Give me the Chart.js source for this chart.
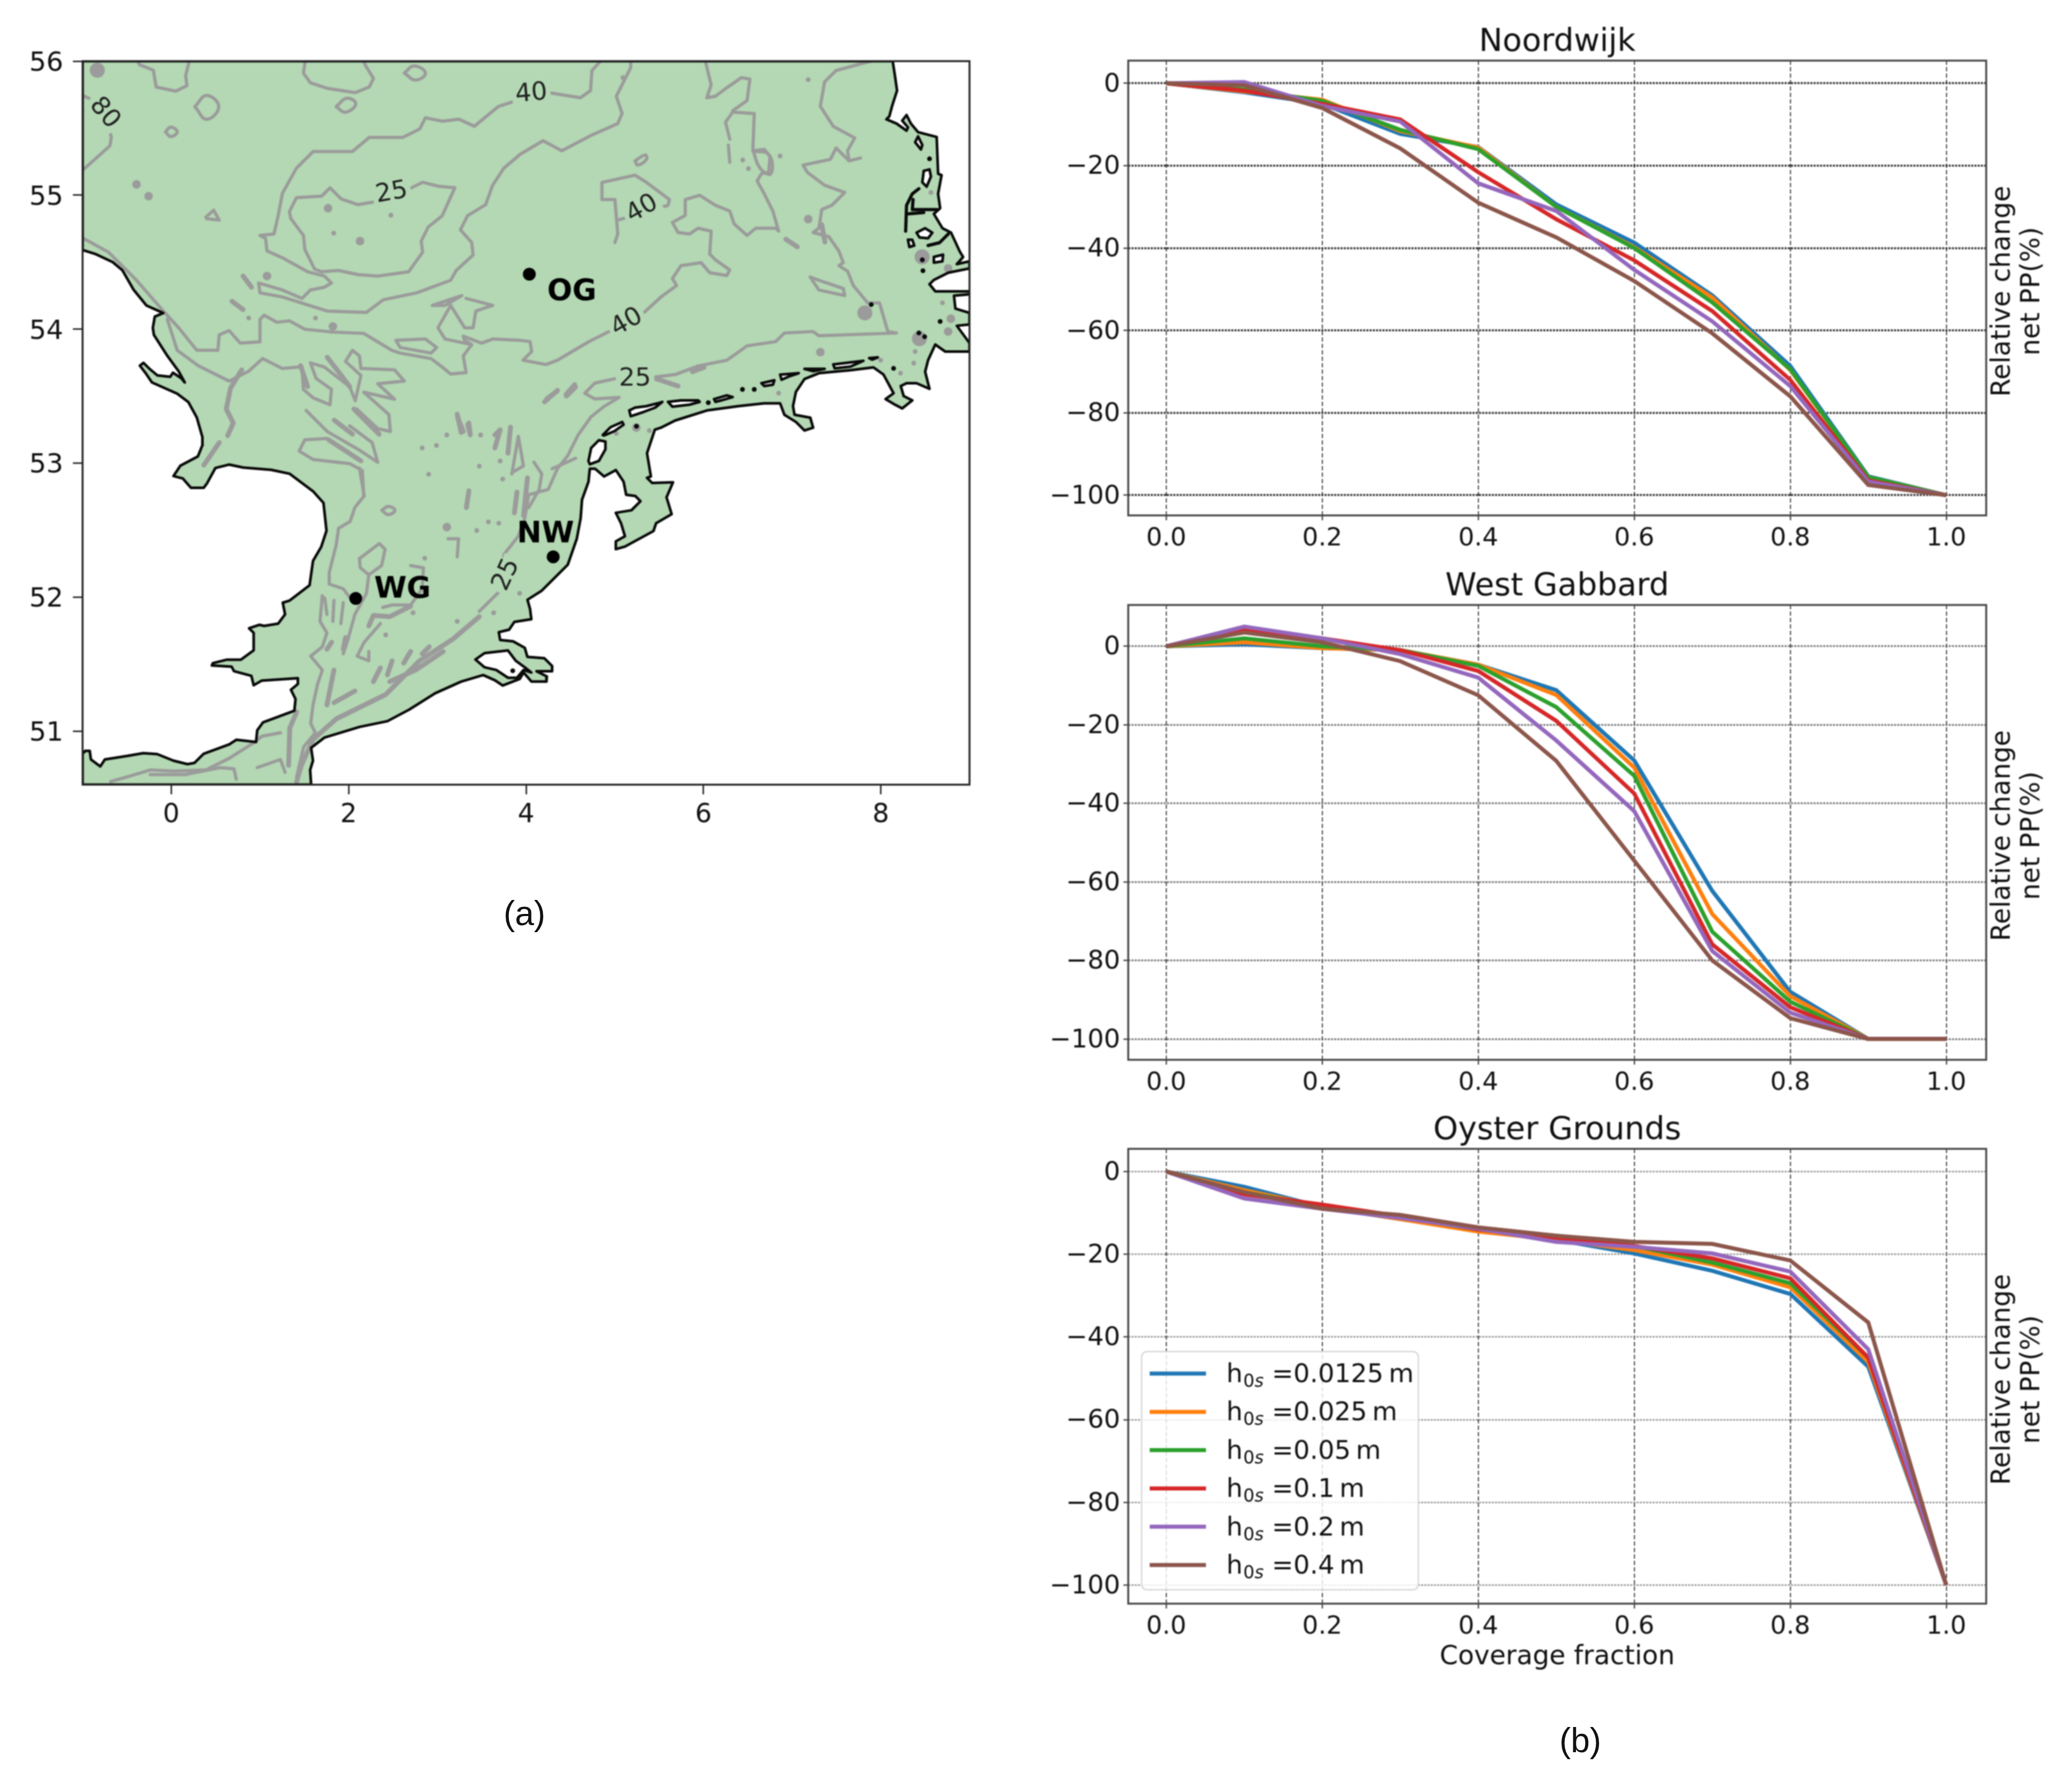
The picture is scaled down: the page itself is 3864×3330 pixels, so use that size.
<!DOCTYPE html>
<html>
<head>
<meta charset="utf-8">
<title>North Sea map and relative change in net primary production</title>
<script src="https://cdn.jsdelivr.net/npm/chart.js@4/dist/chart.umd.js"></script>
<style>
html,body{margin:0;padding:0;background:#fff;width:3864px;height:3330px;overflow:hidden}
canvas{position:absolute;filter:blur(1.3px)}
.cap{position:absolute;font-family:"Liberation Sans",sans-serif;font-size:64px;color:#111;line-height:70px;transform:translateX(-50%)}
</style>
</head>
<body>
<canvas id="map"></canvas>
<canvas id="p0"></canvas>
<canvas id="p1"></canvas>
<canvas id="p2"></canvas>
<div class="cap" style="left:978px;top:1668px">(a)</div>
<div class="cap" style="left:2947px;top:3210px">(b)</div>
<script>
// ---------- line panels ----------
const coverage = [0,0.1,0.2,0.3,0.4,0.5,0.6,0.7,0.8,0.9,1.0];
const xTicks = [0,0.2,0.4,0.6,0.8,1.0];
const yTicks = [-100,-80,-60,-40,-20,0];
const roughness = ['0.0125','0.025','0.05','0.1','0.2','0.4'];
const seriesColors = ['#1f77b4','#ff7f0e','#2ca02c','#d62728','#9467bd','#8c564b'];
const panelTitles = ['Noordwijk','West Gabbard','Oyster Grounds'];

const nw0125 = [0,-2.2,-5,-12.3,-15.5,-29.4,-38.7,-51.5,-68.6,-95.4,-100];
const nw025  = [0,-2,-4,-11.6,-15.6,-30,-39.8,-52,-69.6,-95.6,-100];
const nw05   = [0,-1.5,-4.3,-11.3,-16,-30,-40,-53.2,-69.4,-95.6,-100];
const nw1    = [0,-1.8,-5,-8.8,-21.6,-33,-43,-55.3,-72,-96.4,-100];
const nw2    = [0,0.3,-5.5,-9.3,-24.3,-31,-45.3,-57.8,-73.5,-96.7,-100];
const nw4    = [0,-0.5,-6,-15.8,-29,-37.4,-48,-60.7,-76,-97.5,-100];

const wg0125 = [0,0.5,-0.5,-1,-4.7,-11.2,-29.1,-62.3,-88,-100,-100];
const wg025  = [0,1,-0.5,-1,-4.7,-12.4,-30.9,-68.2,-89.1,-100,-100];
const wg05   = [0,2,0,-1,-5,-15.5,-33,-72.7,-90.5,-100,-100];
const wg1    = [0,4,2,-1,-6.3,-19,-37.5,-75.9,-91.9,-100,-100];
const wg2    = [0,5,2,-2,-8,-24,-42,-77.6,-93.3,-100,-100];
const wg4    = [0,3.5,1,-3.8,-12.5,-29.2,-54.6,-80,-94.7,-100,-100];

const og0125 = [0,-3.7,-8.6,-11.5,-14.2,-16.5,-19.8,-24,-29.6,-47.2,-100];
const og025  = [0,-4.5,-8.5,-11.5,-14.5,-16.5,-19,-22.5,-28,-46,-100];
const og05   = [0,-5,-8.5,-11,-14,-15.5,-18,-22,-27,-45,-100];
const og1    = [0,-5.5,-8,-10.8,-14,-16,-18,-21,-25.8,-45,-100];
const og2    = [0,-6.5,-9,-11.2,-13.8,-17,-18.2,-19.8,-24.2,-43,-100];
const og4    = [0,-5,-9,-10.5,-13.5,-15.5,-17,-17.5,-21.5,-36.5,-100];

const panelSeries = [
  [nw0125,nw025,nw05,nw1,nw2,nw4],
  [wg0125,wg025,wg05,wg1,wg2,wg4],
  [og0125,og025,og05,og1,og2,og4]
];
const panelRanges = [[-104.9,5.5],[-105.3,10.5],[-104.5,5.5]];
const xRange = [-0.0488,1.0512];

// ---------- map (longitude, latitude) ----------
const lonTicks = [0,2,4,6,8];
const latTicks = [51,52,53,54,55,56];

const seaBoundary = [[-1,56],[8.134,56],[8.16,55.888],[8.183,55.78],[8.131,55.673],[8.096,55.588],[8.063,55.566],[8.177,55.534],[8.29,55.481],[8.306,55.506],[8.241,55.556],[8.29,55.598],[8.339,55.534],[8.42,55.47],[8.63,55.434],[8.646,55.16],[8.685,55.149],[8.646,55.01],[8.669,54.903],[8.598,54.86],[8.695,54.753],[8.792,54.72],[8.889,54.581],[8.928,54.538],[8.857,54.485],[9,54.506],[9,54.453],[8.76,54.421],[8.598,54.367],[8.549,54.335],[8.614,54.282],[9,54.282],[9,54.26],[8.825,54.25],[8.841,54.153],[9,54.121],[9,54.035],[8.857,54.025],[9,53.896],[9,53.832],[8.727,53.832],[8.614,53.885],[8.533,53.768],[8.5,53.682],[8.549,53.554],[8.403,53.596],[8.29,53.596],[8.225,53.575],[8.258,53.5],[8.355,53.468],[8.241,53.408],[8.16,53.436],[8.054,53.478],[8.144,53.521],[8.031,53.66],[7.917,53.714],[7.658,53.693],[7.302,53.671],[7.14,53.628],[7.043,53.532],[7.01,53.425],[7.027,53.361],[7.205,53.339],[7.237,53.264],[7.14,53.243],[7.043,53.307],[6.913,53.361],[6.865,53.446],[6.686,53.446],[6.395,53.425],[6.039,53.393],[5.682,53.318],[5.52,53.264],[5.452,53.249],[5.364,53.074],[5.408,52.9],[5.364,52.89],[5.422,52.852],[5.657,52.857],[5.584,52.745],[5.642,52.619],[5.466,52.551],[5.437,52.493],[5.115,52.377],[5.012,52.358],[5.012,52.416],[5.115,52.454],[5.071,52.551],[5.012,52.629],[5.188,52.648],[5.29,52.716],[5.232,52.755],[5.129,52.764],[5.1,52.861],[5.012,52.948],[4.88,52.9],[4.778,52.958],[4.719,52.958],[4.704,52.861],[4.631,52.726],[4.616,52.59],[4.572,52.435],[4.47,52.241],[4.177,52.048],[4.016,51.98],[4.045,51.912],[4.06,51.835],[3.869,51.815],[3.81,51.757],[3.693,51.738],[3.708,51.68],[3.854,51.67],[3.986,51.621],[4.015,51.554],[4.206,51.544],[4.294,51.486],[4.294,51.447],[4.118,51.447],[4.235,51.408],[4.23,51.37],[4.06,51.37],[3.972,51.437],[3.928,51.389],[3.737,51.34],[3.649,51.379],[3.517,51.418],[3.268,51.369],[2.975,51.282],[2.682,51.16],[2.437,51.074],[2.122,51.031],[1.729,50.952],[1.577,50.875],[1.598,50.779],[1.566,50.71],[1.577,50.6],[-1,50.6],[-1,50.84],[-0.985,50.84],[-0.972,50.852],[-0.919,50.852],[-0.906,50.788],[-0.801,50.736],[-0.749,50.788],[-0.5,50.814],[-0.316,50.835],[-0.159,50.828],[0.025,50.779],[0.182,50.753],[0.261,50.762],[0.366,50.831],[0.654,50.901],[0.733,50.935],[0.956,50.918],[0.969,51.005],[1.034,51.065],[1.388,51.152],[1.401,51.239],[1.349,51.308],[1.427,51.351],[1.427,51.395],[1.021,51.377],[0.929,51.342],[0.903,51.412],[0.707,51.447],[0.68,51.481],[0.457,51.49],[0.47,51.507],[0.628,51.533],[0.785,51.533],[0.929,51.603],[0.929,51.733],[0.877,51.767],[0.995,51.793],[1.047,51.785],[1.205,51.802],[1.283,51.871],[1.257,51.958],[1.336,51.975],[1.559,52.088],[1.598,52.27],[1.69,52.374],[1.75,52.495],[1.716,52.703],[1.598,52.79],[1.336,52.92],[1.126,52.95],[0.811,52.967],[0.654,52.989],[0.497,52.963],[0.405,52.851],[0.366,52.816],[0.221,52.816],[0.13,52.885],[0.025,52.903],[0.103,52.981],[0.3,53.05],[0.353,53.137],[0.351,53.194],[0.288,53.34],[0.193,53.455],[0.067,53.518],[-0.076,53.56],[-0.218,53.602],[-0.281,53.664],[-0.354,53.727],[-0.313,53.748],[-0.249,53.706],[-0.155,53.654],[-0.012,53.644],[0.019,53.675],[0.114,53.633],[0.152,53.602],[0.083,53.685],[-0.044,53.8],[-0.196,53.957],[-0.208,54.009],[-0.186,54.093],[-0.091,54.12],[-0.281,54.177],[-0.423,54.292],[-0.55,54.438],[-0.66,54.5],[-0.85,54.559],[-1,54.59],[-1,56]];

const landIslands = [
 [[3.429,51.534],[3.532,51.582],[3.796,51.602],[3.884,51.525],[3.986,51.476],[4.06,51.437],[3.972,51.456],[3.898,51.398],[3.796,51.398],[3.664,51.456],[3.532,51.476],[3.429,51.534]],
 [[4.704,53.016],[4.734,53.113],[4.821,53.171],[4.895,53.161],[4.895,53.103],[4.821,53.016],[4.719,52.991],[4.704,53.016]],
 [[4.865,53.21],[4.953,53.268],[5.085,53.307],[5.1,53.287],[4.997,53.239],[4.88,53.206],[4.865,53.21]],
 [[5.164,53.393],[5.229,53.414],[5.358,53.425],[5.488,53.447],[5.537,53.457],[5.456,53.414],[5.326,53.382],[5.18,53.35],[5.164,53.393]],
 [[5.601,53.457],[5.747,53.468],[5.941,53.468],[5.958,53.457],[5.844,53.436],[5.65,53.421],[5.601,53.457]],
 [[6.12,53.478],[6.265,53.506],[6.33,53.493],[6.2,53.468],[6.136,53.457],[6.12,53.478]],
 [[6.654,53.596],[6.8,53.618],[6.784,53.585],[6.686,53.575],[6.654,53.596]],
 [[6.865,53.66],[7.075,53.671],[6.978,53.65],[6.881,53.622],[6.865,53.66]],
 [[7.14,53.703],[7.367,53.703],[7.237,53.686],[7.14,53.703]],
 [[7.464,53.736],[7.804,53.763],[7.658,53.72],[7.48,53.707],[7.464,53.736]],
 [[7.869,53.783],[7.966,53.789],[7.901,53.772],[7.869,53.783]],
 [[8.42,55.438],[8.468,55.374],[8.452,55.341],[8.387,55.395],[8.42,55.438]],
 [[8.484,55.181],[8.549,55.192],[8.565,55.138],[8.517,55.063],[8.468,55.095],[8.484,55.181]],
 [[8.403,54.72],[8.5,54.753],[8.581,54.72],[8.533,54.678],[8.436,54.684],[8.403,54.72]],
 [[8.306,54.667],[8.355,54.667],[8.377,54.624],[8.322,54.613],[8.306,54.667]],
 [[8.598,54.539],[8.702,54.556],[8.695,54.506],[8.598,54.496],[8.598,54.539]]
];
const coastLines = [
 [[8.429,55.048],[8.355,55.01],[8.29,54.924],[8.28,54.731]],
 [[8.364,54.967],[8.355,54.892],[8.63,54.892]],
 [[8.306,54.86],[8.484,54.87]],
 [[8.533,54.624],[8.662,54.645],[8.76,54.71]]
];
const coastDots = [[7.892,54.183],[5.245,53.275],[6.44,53.55],[6.573,53.55],[8.144,53.707],[8.669,54.057],[8.429,53.971],[8.494,53.943],[8.549,55.271],[8.468,54.517],[8.475,54.436],[6.055,53.451],[3.85,51.45]];

const contours = [
 [[-0.376,56],[-0.36,55.974],[-0.202,55.932],[-0.17,55.807],[0.051,55.776],[0.177,55.817],[0.162,55.891],[0.193,55.974],[0.2,56]],
 [[1.51,56],[1.49,55.911],[1.569,55.838],[1.758,55.797],[2.074,55.765],[2.232,55.807],[2.28,55.87],[2.185,55.974],[2.17,56]],
 [[-0.992,55.19],[-0.834,55.284],[-0.692,55.368],[-0.676,55.431],[-0.708,55.504]],
 [[-1,55.744],[-0.929,55.723]],
 [[3.877,55.702],[3.687,55.661],[3.418,55.514],[3.245,55.567],[3.055,55.552],[2.865,55.577],[2.802,55.494],[2.612,55.431],[2.233,55.431],[2.043,55.326],[1.6,55.326],[1.411,55.201],[1.253,55.013],[1.205,54.846],[1.158,54.71],[1,54.699],[1.063,54.678],[1.079,54.584],[1.253,54.532],[1.537,54.428],[1.727,54.396],[1.806,54.344],[1.727,54.313],[1.569,54.292],[1.474,54.229],[1.253,54.292],[0.984,54.344],[1,54.271],[1.253,54.24],[1.506,54.187],[1.759,54.135],[2.201,54.125],[2.391,54.219],[2.77,54.271],[3.15,54.365],[3.213,54.438],[3.403,54.553],[3.387,54.647],[3.26,54.741],[3.34,54.846],[3.545,54.929],[3.624,55.075],[3.75,55.201],[3.934,55.305],[4.192,55.406],[4.403,55.331],[4.743,55.449],[5.034,55.534],[5.083,55.609],[5.018,55.738],[5.18,55.952],[5.18,56]],
 [[3.877,55.702],[4.208,55.77],[4.613,55.727],[4.727,55.78],[4.743,55.93],[4.84,56]],
 [[1.616,54.448],[1.506,54.595],[1.49,54.699],[1.348,54.825],[1.332,54.877],[1.411,54.981],[1.695,54.992],[1.79,55.055],[1.917,54.971],[2.106,54.929],[2.296,54.95],[2.644,55.034],[2.834,55.096],[3.023,55.065],[3.197,55.055],[3.055,54.846],[2.897,54.762],[2.818,54.657],[2.834,54.574],[2.676,54.428],[2.328,54.396],[2.106,54.407],[1.885,54.438],[1.695,54.428],[1.616,54.448]],
 [[-0.075,54.124],[0.083,54.01],[0.288,53.842],[0.525,53.842],[0.541,53.957],[0.652,53.989],[0.778,53.895],[1,53.905],[1,54.072],[1.047,54.104],[1.19,54.051],[1.332,54.062],[1.506,53.999],[1.822,53.978],[2.17,53.968],[2.486,53.842],[2.581,53.821],[2.929,53.78],[3.055,53.717],[3.15,53.665],[3.324,53.675],[3.292,53.8],[3.387,53.884],[3.308,53.916],[3.292,53.947],[3.498,53.895],[3.624,53.926],[3.934,53.916],[4.046,53.907],[4.063,53.832],[3.965,53.768],[4.225,53.736],[4.354,53.768],[4.71,53.907],[4.969,53.993],[5.326,54.121],[5.52,54.239],[5.698,54.325],[5.65,54.378],[5.747,54.474],[5.974,54.496],[6.071,54.421],[6.265,54.4],[6.297,54.442],[6.135,54.517],[6.071,54.56],[6.087,54.731],[5.941,54.753],[5.844,54.71],[5.714,54.721],[5.65,54.796],[5.795,54.849],[5.795,54.967],[5.957,54.999],[6.135,54.924],[6.297,54.881],[6.346,54.785],[6.492,54.699],[6.589,54.753],[6.816,54.753],[6.848,54.731],[6.783,54.881],[6.686,55.01],[6.605,55.106],[6.654,55.16],[6.735,55.17],[6.751,55.288],[6.686,55.342],[6.557,55.331],[6.573,55.609],[6.33,55.62],[6.249,55.545],[6.297,55.417]],
 [[6.33,55.63],[6.492,55.706],[6.524,55.866],[6.427,55.877],[6.265,55.802],[6.135,55.738],[6.038,55.727],[6.087,55.823],[6.022,56]],
 [[6.281,55.374],[6.297,55.245]],
 [[5.002,54.646],[5.034,54.71],[5.002,54.967],[4.856,54.967],[4.856,55.095],[5.229,55.149],[5.358,55.095],[5.617,54.967],[5.601,54.924],[5.423,54.892],[5.05,54.817]],
 [[7.885,56],[7.496,55.93],[7.366,55.845],[7.318,55.663],[7.464,55.513],[7.706,55.427],[7.625,55.331],[7.642,55.256],[7.771,55.277]],
 [[7.642,55.256],[7.496,55.352],[7.431,55.267],[7.123,55.224],[7.172,55.17],[7.366,55.074],[7.593,55.02],[7.447,54.924],[7.334,54.892],[7.302,54.753],[7.237,54.721],[7.415,54.689],[7.528,54.582],[7.577,54.496],[7.528,54.474],[7.625,54.432],[7.69,54.325],[7.852,54.196]],
 [[7.852,54.196],[7.985,54.196],[8.079,53.982],[8.176,53.971],[7.302,53.95],[7.237,53.982],[6.913,53.971],[6.816,53.907],[6.492,53.875],[6.265,53.768],[5.941,53.725],[5.682,53.661],[5.423,53.639],[5.067,53.639],[4.775,53.597],[4.662,53.522],[4.775,53.479],[5.05,53.49],[4.88,53.423],[4.734,53.346],[4.587,53.21],[4.47,53.055],[4.353,52.958],[4.25,52.803],[4.03,52.764],[3.986,52.59],[3.913,52.455],[3.752,52.319],[3.708,52.048],[3.473,51.893]],
 [[-0.044,54.072],[0.067,53.842],[0.304,53.727],[0.652,53.612],[0.873,53.686],[1.031,53.78],[1.253,53.706],[1.442,53.717]],
 [[-0.992,54.678],[-0.708,54.574],[-0.392,54.365],[-0.075,54.124]],
 [[1.474,53.717],[1.49,53.55],[1.6,53.487],[1.79,53.435],[1.806,53.55],[1.632,53.633],[1.569,53.748],[1.727,53.717],[2.011,53.571],[2.075,53.466],[2.138,53.654],[1.964,53.759],[2.043,53.842],[2.122,53.8],[2.138,53.706],[2.517,53.696],[2.628,53.612],[2.328,53.592],[2.517,53.477],[2.17,53.529],[2.454,53.362],[2.47,53.236],[2.328,53.257],[2.09,53.404]],
 [[1.521,53.393],[1.758,53.236],[2.138,53.09],[2.328,53.006],[2.265,53.153],[2.011,53.278]],
 [[1.758,53.184],[1.506,53.174],[1.442,53.09],[1.6,53.027],[2.011,52.996],[2.154,52.944],[2.17,52.756]],
 [[2.122,52.963],[2.175,52.755],[2.07,52.669],[2.017,52.565],[1.886,52.513],[1.86,52.391],[1.781,52.183],[1.781,52.097],[1.939,52.062],[2.017,51.993]],
 [[2.122,52.287],[2.345,52.4],[2.411,52.357],[2.371,52.235],[2.227,52.166],[2.2,52.027],[2.07,51.871],[1.991,51.681],[1.939,51.577]],
 [[2.122,52.287],[2.13,52.22],[2.227,52.166]],
 [[1.703,52.01],[1.677,51.819],[1.755,51.733],[1.703,51.629],[1.572,51.559],[1.703,51.455],[1.65,51.351],[1.598,51.195],[1.572,51.057],[1.624,50.987],[1.493,50.883],[1.414,50.658]],
 [[1.834,51.975],[1.822,51.819]],[[1.939,51.958],[1.912,51.802]],[[1.73,51.993],[1.755,51.871]],
 [[2.385,51.923],[2.49,51.941],[2.699,51.941],[2.83,52.062],[2.843,52.218],[2.699,52.235]],
 [[2.358,51.802],[2.175,51.663],[2.096,51.559],[2.227,51.525],[2.227,51.594]],
 [[1.231,50.987],[1.021,50.961],[0.943,50.918],[0.654,50.797],[0.392,50.71],[0.025,50.701],[-0.237,50.71],[-0.5,50.658],[-0.683,50.623]],
 [[-0.237,50.675],[0.156,50.675],[0.549,50.727],[0.707,50.718],[0.733,50.64]],
 [[0.969,50.727],[1.231,50.788],[1.283,50.692]],
 [[3.84,52.919],[3.913,53.2],[3.971,52.978],[3.84,52.929]],
 [[4.089,53.007],[4.177,52.919],[4.148,52.803],[4.03,52.668]],
 [[4.558,53.036],[4.294,52.958]],
 [[3.122,52.435],[3.239,52.435],[3.224,52.3]],
 [[7.204,54.389],[7.301,54.292],[7.593,54.25],[7.577,54.303],[7.334,54.357],[7.204,54.389]],
 [[2.533,53.916],[2.865,53.926],[2.992,53.863],[2.929,53.821],[2.581,53.863],[2.533,53.916]],
 [[2.944,54.177],[3.276,54.25],[3.087,54.177],[2.944,54.177]],
 [[3.324,54.229],[3.624,54.177],[3.434,54.135],[3.403,54.01],[3.308,54.01],[3.15,54.177],[3.007,54.01],[3.087,53.926],[3.387,53.884]],
 [[0.389,54.835],[0.478,54.887],[0.541,54.814],[0.399,54.824]]
];
const thickContours = [
 [[3.473,51.854],[3.18,51.689],[2.799,51.525],[2.418,51.273],[1.86,51.091],[1.598,50.937],[1.467,50.744],[1.414,50.623]],
 [[3.066,51.594],[2.752,51.455],[2.463,51.369]],
 [[2.07,51.299],[1.834,51.212]],
 [[2.699,51.594],[2.62,51.507]],[[2.49,51.525],[2.437,51.42]],[[2.358,51.472],[2.279,51.369]],[[2.909,51.629],[2.83,51.577]],
 [[1.808,51.663],[1.755,51.611]],[[1.965,51.698],[1.939,51.611]],
 [[2.227,51.785],[2.279,51.863],[2.463,51.854],[2.699,51.932]],
 [[1.414,51.143],[1.336,51.022],[1.323,50.744]],
 [[1.834,51.455],[1.755,51.195]],
 [[0.541,53.153],[0.367,52.985]],
 [[0.794,53.696],[0.668,53.56],[0.62,53.403],[0.699,53.299],[0.636,53.205]],
 [[1.458,53.727],[1.537,53.571]],
 [[1.758,53.79],[1.917,53.654],[2.011,53.571]],
 [[1.838,53.32],[2.043,53.216]],[[2.059,53.404],[2.344,53.215]],[[1.774,53.174],[2.138,53.017]],
 [[3.224,53.365],[3.268,53.229]],[[3.342,53.287],[3.371,53.21]],[[3.649,53.21],[3.708,53.249],[3.649,53.113]],[[3.825,53.268],[3.796,53.074]],
 [[4.016,52.89],[3.972,52.609]],[[3.898,52.784],[3.869,52.629]],[[3.356,52.794],[3.327,52.668]],
 [[4.235,53.481],[4.353,53.539]],[[4.455,53.5],[4.558,53.568]],
 [[4.208,53.457],[4.354,53.543]],[[4.451,53.511],[4.548,53.586]],
 [[5.423,53.639],[5.714,53.575]],[[5.876,53.682],[6.006,53.714]],
 [[0.81,54.396],[0.905,54.313]],[[0.684,54.208],[0.81,54.145]],
 [[3.229,53.341],[3.292,53.236]],[[3.355,53.299],[3.371,53.215]],
 [[6.929,54.671],[7.059,54.614]],
 [[7.334,54.78],[7.37,54.65]]
];
const ringContours = [
 [[2.627,55.911],[2.738,55.964],[2.865,55.911],[2.754,55.859],[2.627,55.911]],
 [[0.266,55.66],[0.399,55.744],[0.535,55.66],[0.399,55.566],[0.266,55.66]],
 [[1.859,55.66],[1.98,55.723],[2.08,55.681],[1.964,55.619],[1.859,55.66]],
 [[-0.066,55.472],[-0.006,55.508],[0.067,55.472],[-0.006,55.437],[-0.066,55.472]],
 [[5.229,55.256],[5.342,55.299],[5.358,55.267],[5.261,55.224],[5.229,55.256]],
 [[2.374,52.648],[2.448,52.677],[2.521,52.648],[2.448,52.615],[2.374,52.648]],
 [[6.56,55.33],[6.74,55.3],[6.76,55.16],[6.64,55.2],[6.56,55.33]]
];
const shoalDotsLarge = [[-0.834,55.932],[7.82,54.121],[8.435,53.928],[8.466,54.539]];
const shoalDotsMedium = [[-0.392,55.08],[-0.256,54.992],[1.768,54.902],[2.128,54.657],[3.107,52.522],[7.318,53.828],[7.182,54.821],[8.759,53.982],[8.79,54.078],[8.759,54.453],[5.244,53.265],[1.822,54.02],[1.079,54.396]];
const shoalDotsSmall = [[1.831,54.716],[2.476,54.85],[2.858,52.29],[3.473,52.977],[3.737,52.881],[3.708,53.016],[3.576,52.561],[3.693,52.551],[3.444,52.497],[2.902,52.916],[2.829,53.113],[2.99,53.132],[3.107,53.21],[3.488,53.21],[3.928,52.028],[3.635,51.883],[3.224,51.819],[2.726,51.883],[2.418,51.718],[6.443,55.262],[6.508,55.198],[6.864,55.292],[7.182,55.862],[5.093,55.877],[7.998,53.768],[8.222,53.671],[8.371,53.746],[8.387,53.832],[6.848,53.522],[8.695,54.196],[8.565,55.02],[5.39,53.243],[5.018,53.222],[0.873,54.083],[1.626,54.083]];

const stationLon = [4.037,4.306,2.08];
const stationLat = [54.41,52.3,51.99];
const stationNames = ['OG','NW','WG'];
const stationLabelLon = [4.516,4.22,2.607];
const stationLabelLat = [54.275,52.465,52.055];

const contourText = ['40','25','80','40','40','25','25'];
const contourLon = [4.06,2.486,-0.755,5.31,5.138,5.229,3.781];
const contourLat = [55.755,55.015,55.611,54.895,54.049,53.627,52.166];
const contourAngle = [-5,-10,50,-30,-30,0,-65];

// ---------- helpers ----------
const FONT = '"DejaVu Sans"';
const TEXT = '#111';
const asXY = pts => pts.map(p => ({x:p[0],y:p[1]}));
function fixCanvas(id,l,t,w,h){
  const c=document.getElementById(id);
  c.width=w;c.height=h;
  c.style.left=l+'px';c.style.top=t+'px';c.style.width=w+'px';c.style.height=h+'px';
  return c;
}
const frame = color => ({
  id:'frame',
  afterDatasetsDraw(ch){
    const a=ch.chartArea,c=ch.ctx;
    c.save();c.strokeStyle=color;c.lineWidth=3.5;
    c.strokeRect(a.left,a.top,a.right-a.left,a.bottom-a.top);
    c.restore();
  }
});
const sideLabel = {
  id:'sideLabel',
  afterDraw(ch){
    const a=ch.chartArea,c=ch.ctx,cy=(a.top+a.bottom)/2+6;
    c.save();c.fillStyle=TEXT;c.font='49px '+FONT;c.textAlign='center';c.textBaseline='middle';
    [['Relative change',31],['net PP(%)',86]].forEach(([t,dx])=>{
      c.save();c.translate(a.right+dx,cy);c.rotate(-Math.PI/2);c.fillText(t,0,0);c.restore();
    });
    c.restore();
  }
};
const legendBox = {
  id:'legendBox',
  afterDraw(ch){
    const a=ch.chartArea,c=ch.ctx,l=a.left+25,t=a.top+378,w=516,h=444;
    c.save();
    c.beginPath();c.roundRect(l,t,w,h,10);
    c.fillStyle='rgba(255,255,255,0.82)';c.fill();
    c.strokeStyle='#d5d5d5';c.lineWidth=2.5;c.stroke();
    roughness.forEach((v,i)=>{
      const y=a.top+419+i*71.4;
      c.strokeStyle=seriesColors[i];c.lineWidth=7.5;
      c.beginPath();c.moveTo(a.left+40,y);c.lineTo(a.left+145,y);c.stroke();
      c.fillStyle=TEXT;c.textBaseline='alphabetic';c.textAlign='left';
      let x=a.left+183;const base=y+16;
      c.font='48px '+FONT;c.fillText('h',x,base);x+=c.measureText('h').width+1;
      c.font='33px '+FONT;c.fillText('0',x,base+9);x+=c.measureText('0').width;
      c.font='italic 33px '+FONT;c.fillText('s',x,base+9);x+=c.measureText('s').width;
      c.font='48px '+FONT;c.fillText(' ='+v+'\u2009m',x,base);
    });
    c.restore();
  }
};

// ---------- line panels ----------
const panelTop=[114,1129,2143], plotH=847, headH=80;
panelTitles.forEach((title,i)=>{
  const last=i===2, axisH=last?130:70;
  const cv=fixCanvas('p'+i,1950,panelTop[i]-headH,1914,headH+plotH+axisH);
  const hStyle=[{w:3.8,c:'rgba(40,40,40,0.9)',d:[4,2]},{w:3.2,c:'rgba(100,100,100,0.85)',d:[4,2]},{w:2.8,c:'rgba(130,130,130,0.85)',d:[4,2]}][i];
  new Chart(cv,{
    type:'scatter',
    data:{datasets:panelSeries[i].map((vals,k)=>({
      label:'h0s ='+roughness[k]+' m',
      data:vals.map((v,j)=>({x:coverage[j],y:v})),
      showLine:true,borderColor:seriesColors[k],backgroundColor:seriesColors[k],
      borderWidth:7.5,pointRadius:0,tension:0,order:-k
    }))},
    options:{
      responsive:false,animation:false,devicePixelRatio:1,
      layout:{padding:{right:160,left:0,top:0,bottom:0}},
      plugins:{
        legend:{display:false},tooltip:{enabled:false},
        title:{display:true,text:title,fullSize:false,color:TEXT,font:{family:FONT,size:59,weight:'normal'},padding:{top:10,bottom:-1.8}}
      },
      scales:{
        x:{type:'linear',min:xRange[0],max:xRange[1],
          afterBuildTicks:s=>{s.ticks=xTicks.map(v=>({value:v}))},
          afterFit:s=>{s.height=axisH},
          border:{display:false,dash:[8,4]},
          grid:{color:'rgba(40,40,40,0.9)',lineWidth:2,tickLength:9,tickColor:'#444',tickWidth:2.5},
          ticks:{autoSkip:false,maxRotation:0,padding:7,color:TEXT,font:{family:FONT,size:47},callback:v=>Number(v).toFixed(1)},
          title:{display:last,text:'Coverage fraction',color:TEXT,font:{family:FONT,size:49},padding:{top:0,bottom:0}}
        },
        y:{type:'linear',min:panelRanges[i][0],max:panelRanges[i][1],
          afterBuildTicks:s=>{s.ticks=yTicks.map(v=>({value:v}))},
          afterFit:s=>{s.width=154},
          border:{display:false,dash:hStyle.d},
          grid:{color:hStyle.c,lineWidth:hStyle.w,tickLength:9,tickColor:'#444',tickWidth:2.5},
          ticks:{padding:6,labelOffset:3,color:TEXT,font:{family:FONT,size:48},callback:v=>String(v).replace('-','\u2212')}
        }
      }
    },
    plugins:last?[frame('#444'),sideLabel,legendBox]:[frame('#444'),sideLabel]
  });
});

// ---------- map ----------
const GREEN='#b3d8b3', GRAY='#9b9b9b';
const mapSets=[];
const addLine=(pts,o)=>mapSets.push(Object.assign({data:asXY(pts),showLine:true,pointRadius:0,tension:0,fill:false,borderColor:GRAY,borderWidth:6,borderJoinStyle:'round',borderCapStyle:'round'},o));
const addDots=(pts,r,col)=>mapSets.push({data:asXY(pts),showLine:false,pointRadius:r,pointBackgroundColor:col,pointBorderWidth:0});
addLine(seaBoundary,{fill:'shape',backgroundColor:GREEN,borderColor:'rgba(0,0,0,0)',borderWidth:0});
contours.forEach(c=>addLine(c,{}));
thickContours.forEach(c=>addLine(c,{borderWidth:9}));
ringContours.forEach(c=>addLine(c,{tension:0.45}));
addDots(shoalDotsLarge,14,GRAY);addDots(shoalDotsMedium,8,GRAY);addDots(shoalDotsSmall,4.5,GRAY);
addLine(seaBoundary,{borderColor:'#0a0a0a',borderWidth:5});
landIslands.forEach(c=>addLine(c,{fill:'shape',backgroundColor:'#fff',borderColor:'#0a0a0a',borderWidth:5}));
coastLines.forEach(c=>addLine(c,{borderColor:'#0a0a0a',borderWidth:6}));
addDots(coastDots,4.5,'#0a0a0a');
addDots(stationLon.map((x,i)=>[x,stationLat[i]]),12,'#000');
mapSets.forEach((d,i)=>{d.order=-i});

const mapLabels={
  id:'mapLabels',
  afterDatasetsDraw(ch){
    const c=ch.ctx,X=ch.scales.x,Y=ch.scales.y;
    c.save();c.textAlign='center';c.textBaseline='middle';
    contourText.forEach((t,i)=>{
      c.save();c.translate(X.getPixelForValue(contourLon[i]),Y.getPixelForValue(contourLat[i]));
      c.rotate(contourAngle[i]*Math.PI/180);
      c.font='47px '+FONT;
      const w=c.measureText(t).width;
      c.fillStyle=GREEN;c.fillRect(-w/2-6,-20,w+12,40);
      c.fillStyle='#222';c.fillText(t,0,0);
      c.restore();
    });
    c.font='bold 55px '+FONT;c.fillStyle='#000';
    stationNames.forEach((t,i)=>c.fillText(t,X.getPixelForValue(stationLabelLon[i]),Y.getPixelForValue(stationLabelLat[i])));
    c.restore();
  }
};
new Chart(fixCanvas('map',0,0,1900,1600),{
  type:'scatter',
  data:{datasets:mapSets},
  options:{
    responsive:false,animation:false,devicePixelRatio:1,
    layout:{padding:{left:0,top:114,right:92,bottom:0}},
    plugins:{legend:{display:false},tooltip:{enabled:false},title:{display:false}},
    scales:{
      x:{type:'linear',min:-1,max:9,
        afterBuildTicks:s=>{s.ticks=lonTicks.map(v=>({value:v}))},
        afterFit:s=>{s.height=137},
        border:{display:false},
        grid:{drawOnChartArea:false,tickLength:18,tickColor:'#333',tickWidth:3},
        ticks:{autoSkip:false,maxRotation:0,padding:10,color:TEXT,font:{family:FONT,size:49},callback:v=>String(v)}
      },
      y:{type:'linear',min:50.6,max:56,
        afterBuildTicks:s=>{s.ticks=latTicks.map(v=>({value:v}))},
        afterFit:s=>{s.width=154},
        border:{display:false},
        grid:{drawOnChartArea:false,tickLength:18,tickColor:'#333',tickWidth:3},
        ticks:{padding:18,labelOffset:5,color:TEXT,font:{family:FONT,size:50},callback:v=>String(v)}
      }
    }
  },
  plugins:[frame('#222'),mapLabels]
});
</script>
</body>
</html>
